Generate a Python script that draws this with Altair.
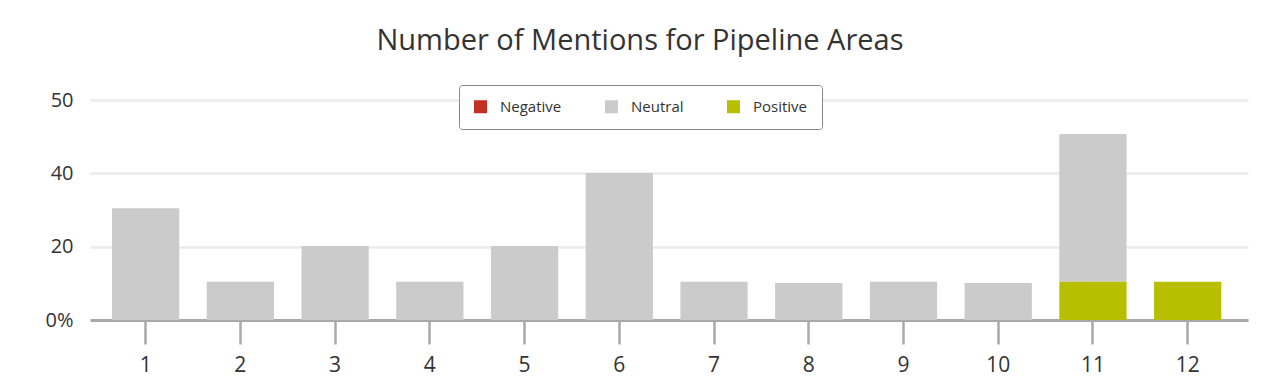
import altair as alt
import pandas as pd

areas = [str(i) for i in range(1, 13)]
neutral = [30.5, 10.4, 20.2, 10.4, 20.2, 40.1, 10.4, 10.1, 10.4, 10.1, 40.3, 0]
positive = [0, 0, 0, 0, 0, 0, 0, 0, 0, 0, 10.4, 10.4]
negative = [0] * 12
sentiments = ["Negative", "Neutral", "Positive"]
colors = ["#c23121", "#cbcbcb", "#b7bf00"]
stack_rank = {"Positive": 0, "Neutral": 1, "Negative": 2}

rows = []
for i, a in enumerate(areas):
    for s, vals in (("Negative", negative), ("Neutral", neutral), ("Positive", positive)):
        rows.append({"area": a, "sentiment": s, "count": vals[i], "rank": stack_rank[s]})
df = pd.DataFrame(rows)

FONT = "Open Sans"

chart = alt.Chart(df).mark_bar().encode(
    x=alt.X("area:N", sort=areas,
            scale=alt.Scale(paddingInner=0.29, paddingOuter=0.257, align=0.452),
            axis=alt.Axis(title=None, labelAngle=0, labelFontSize=21, labelColor="#333333",
                          labelFont=FONT, labelPadding=10,
                          domainColor="#a9a9ab", domainWidth=3,
                          tickColor="#a9a9ab", tickWidth=2.5, tickSize=24, grid=False)),
    y=alt.Y("count:Q", stack="zero",
            scale=alt.Scale(domain=[0, 60], nice=False),
            axis=alt.Axis(title=None, values=[0, 20, 40, 60],
                          labelExpr="datum.value == 0 ? '0%' : (datum.value == 60 ? '50' : datum.label)",
                          labelFontSize=20, labelColor="#333333", labelFont=FONT, labelPadding=17,
                          domain=False, ticks=False, gridColor="#ebebeb", gridWidth=2.5)),
    color=alt.Color("sentiment:N",
                    scale=alt.Scale(domain=sentiments, range=colors),
                    legend=alt.Legend(title=None, orient="none", legendX=369, legendY=-15,
                                      direction="horizontal", columns=3, columnPadding=42,
                                      symbolType="square", symbolSize=169, symbolStrokeWidth=0,
                                      labelFontSize=15, labelFont=FONT, labelColor="#333333",
                                      labelOffset=12, padding=14,
                                      strokeColor="#888888", fillColor="white", cornerRadius=3)),
    order=alt.Order("rank:Q", sort="ascending"),
).properties(
    width=1158, height=220,
    title=alt.Title("Number of Mentions for Pipeline Areas", fontSize=29, font=FONT,
                    fontWeight="normal", color="#333333", anchor="middle", dx=-29, offset=29),
    autosize=alt.AutoSizeParams(type="none"),
    padding={"left": 82, "top": 92, "right": 24, "bottom": 56},
).configure_view(stroke=None)

chart.save("out.html", embed_options={"renderer": "svg", "actions": False})
